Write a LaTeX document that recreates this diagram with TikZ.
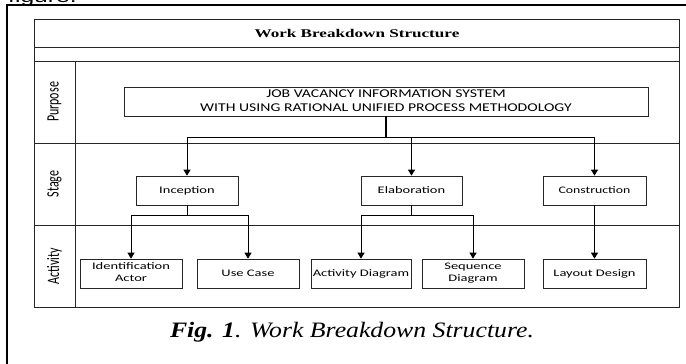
\documentclass[tikz,border=0pt]{standalone}
\usepackage{fontspec}
\setmainfont{Carlito}
\newfontfamily\titlefont{Liberation Serif}
\newfontfamily\capfont{Liberation Serif}
\newfontfamily\pagefont{Liberation Sans}
\usetikzlibrary{arrows.meta}
\newcommand\hstr[2][1.45]{\scalebox{#1}[1]{#2}}
\newcommand\vstr[2][1.45]{\scalebox{1}[#1]{#2}}
\begin{document}
\begin{tikzpicture}[x=1pt,y=-1pt,
  outerframe/.style={line width=1.3pt, draw=black},
  tableline/.style={line width=0.8pt, draw=black!85},
  box/.style={draw=black!85, line width=0.7pt, minimum height=29pt, inner sep=0pt,
    font=\fontsize{10}{12}\selectfont},
  lanelabel/.style={rotate=90, inner sep=0pt, font=\fontsize{12}{12}\selectfont},
  link/.style={line width=0.9pt, draw=black},
  arr/.style={link, -{Triangle[width=7pt,length=6pt]}},
]
\useasboundingbox (0,0) rectangle (686,364);
% page text cut off at the top
\node[anchor=base west, inner sep=0pt, font=\pagefont\fontsize{17}{17}\selectfont] (pagetext) at (8,2.5) {\hstr{figure.}};
% outer frame
\draw[outerframe] (7,366) -- (7,5) -- (688,5);
% table
\draw[tableline] (34,19) rectangle (679,307);
\draw[tableline] (34,47) -- (679,47);
\draw[tableline] (34,61) -- (679,61);
\draw[tableline] (34,143) -- (679,143);
\draw[tableline] (34,225) -- (679,225);
\draw[tableline] (75,61) -- (75,307);
\node[font=\titlefont\bfseries\fontsize{11.8}{12}\selectfont] (title) at (357,33) {\hstr{Work Breakdown Structure}};
% lane labels
\node[lanelabel] (lpurpose) at (54.5,102) {\vstr{Purpose}};
\node[lanelabel] (lstage) at (54.5,184) {\vstr{Stage}};
\node[lanelabel] (lactivity) at (54.5,266) {\vstr{Activity}};
% purpose box
\node[box, minimum width=524pt, font=\fontsize{11.9}{14}\selectfont] (purpose) at (386,101.5)
  {\hstr[1.32]{\begin{tabular}{@{}c@{}}JOB VACANCY INFORMATION SYSTEM\\WITH USING RATIONAL UNIFIED PROCESS METHODOLOGY\end{tabular}}};
% stages
\node[box, minimum width=102pt] (inception) at (187,190.5) {\hstr{Inception}};
\node[box, minimum width=101pt] (elaboration) at (411.5,190.5) {\hstr{Elaboration}};
\node[box, minimum width=103pt] (construction) at (594.5,190.5) {\hstr[1.38]{Construction}};
% activities
\node[box, minimum width=102pt] (idact) at (131,273.5) {\hstr{\begin{tabular}{@{}c@{}}Identification\\Actor\end{tabular}}};
\node[box, minimum width=102pt] (usecase) at (248,273.5) {\hstr{Use Case}};
\node[box, minimum width=100pt] (actdia) at (361,273.5) {\hstr{Activity Diagram}};
\node[box, minimum width=102pt] (seqdia) at (473,273.5) {\hstr{\begin{tabular}{@{}c@{}}Sequence\\Diagram\end{tabular}}};
\node[box, minimum width=103pt] (layout) at (594.5,273.5) {\hstr{Layout Design}};
% connectors
\draw[link, line width=1.3pt] (purpose.south) -- ++(0,21) coordinate (j1);
\draw[arr] (j1) -| (inception.north);
\draw[arr] (j1) -| (elaboration.north);
\draw[arr] (j1) -| (construction.north);
\draw[link] (inception.south) -- ++(0,10) coordinate (j2);
\draw[arr] (j2) -| (idact.north);
\draw[arr] (j2) -| (usecase.north);
\draw[link] (elaboration.south) -- ++(0,10) coordinate (j3);
\draw[arr] (j3) -| (actdia.north);
\draw[arr] (j3) -| (seqdia.north);
\draw[arr] (construction.south) -- (layout.north);
% caption
\node[anchor=base, inner sep=0pt, font=\capfont\itshape\fontsize{22}{22}\selectfont] (caption) at (352,337)
  {\hstr[1.17]{\textbf{Fig. 1}. Work Breakdown Structure.}};
\end{tikzpicture}
\end{document}
